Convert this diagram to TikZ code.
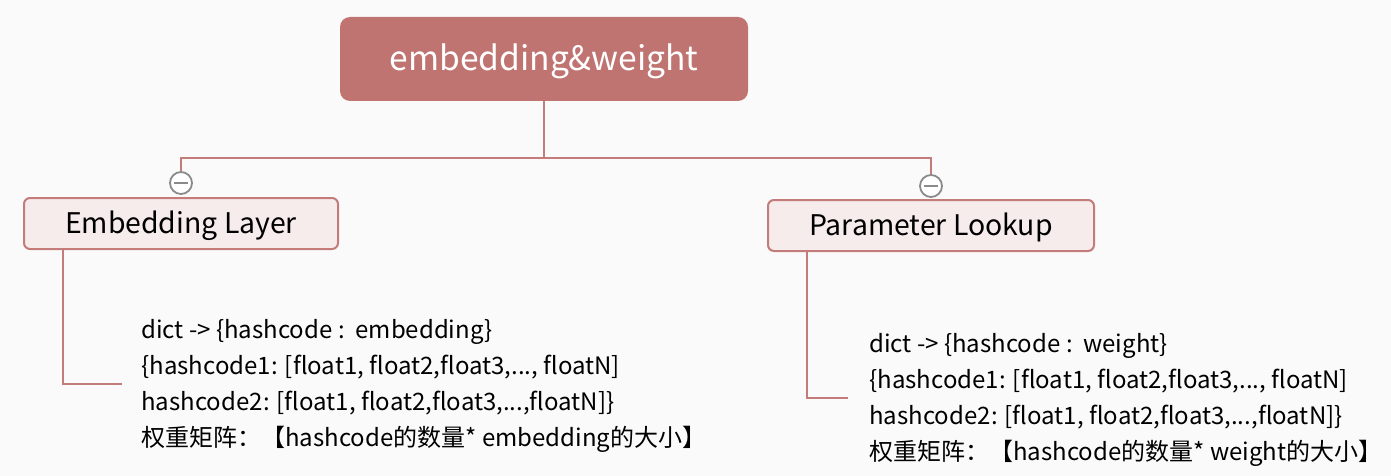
\documentclass[tikz,border=0pt]{standalone}
\usepackage{fontspec}
\setmainfont{Noto Sans CJK SC}
\usetikzlibrary{positioning,calc}

\definecolor{rosy}{RGB}{192,116,114}
\definecolor{rosyline}{RGB}{196,124,122}
\definecolor{rosyfill}{RGB}{247,236,236}
\definecolor{canvas}{RGB}{251,250,250}
\definecolor{togglegray}{RGB}{138,138,138}

\begin{document}
\begin{tikzpicture}[
    x=0.5pt, y=-0.5pt,
    rootbox/.style={fill=rosy, rounded corners=5pt, minimum width=204pt, minimum height=42pt,
                text=white, font=\fontsize{16.8pt}{20pt}\selectfont, inner sep=0pt,
                text height=1.36em, text depth=0.16em},
    childbox/.style={draw=rosyline, line width=1pt, fill=rosyfill, rounded corners=3pt,
                minimum height=25.5pt, inner sep=0pt, font=\fontsize{14.2pt}{17pt}\selectfont,
                text height=1.2em, text depth=0.18em},
    toggle/.style={circle, draw=togglegray, line width=0.9pt, fill=white, minimum size=11pt, inner sep=0pt},
    notes/.style={align=left, anchor=west, inner sep=0pt, font=\fontsize{12pt}{18pt}\selectfont},
    link/.style={draw=rosyline, line width=1pt},
  ]
  % --- canvas ---
  \fill[canvas] (0,0) rectangle (1391,476);
  \useasboundingbox (0,0) rectangle (1391,476);

  % --- root and the two branches ---
  \node[rootbox] (root) at (544, 59) {embedding\&weight};
  \node[childbox, minimum width=157pt] (embLayer)    at (181, 223.5) {Embedding Layer};
  \node[childbox, minimum width=163pt] (paramLookup) at (931, 225.5) {Parameter Lookup};

  % --- collapse toggles ---
  \node[toggle] (embToggle)   at (181, 183) {};
  \node[toggle] (paramToggle) at (931, 186) {};
  \draw[togglegray, line width=0.9pt] ([xshift=-3.5pt]embToggle.center) -- ([xshift=3.5pt]embToggle.center);
  \draw[togglegray, line width=0.9pt] ([xshift=-3.5pt]paramToggle.center) -- ([xshift=3.5pt]paramToggle.center);

  % --- detail texts ---
  \node[notes] (embText) at (141, 386) {dict -> \{hashcode :\ \ embedding\}\\
    \{hashcode1: [float1, float2,float3,..., floatN]\\
    hashcode2: [float1, float2,float3,...,floatN]\}\\
    权重矩阵：【hashcode的数量* embedding的大小】};
  \node[notes] (paramText) at (869, 400) {dict -> \{hashcode :\ \ weight\}\\
    \{hashcode1: [float1, float2,float3,..., floatN]\\
    hashcode2: [float1, float2,float3,...,floatN]\}\\
    权重矩阵：【hashcode的数量* weight的大小】};

  % --- tree connectors ---
  \draw[link] (root.south) -- ++(0,57) -| (embToggle.north);
  \draw[link] (root.south) -- ++(0,57) -| (paramToggle.north);
  \draw[link] ([xshift=20pt]embLayer.south west) |- ([xshift=-9.5pt,yshift=1pt]embText.west);
  \draw[link] ([xshift=20pt]paramLookup.south west) |- ([xshift=-10.5pt,yshift=1pt]paramText.west);
\end{tikzpicture}
\end{document}
